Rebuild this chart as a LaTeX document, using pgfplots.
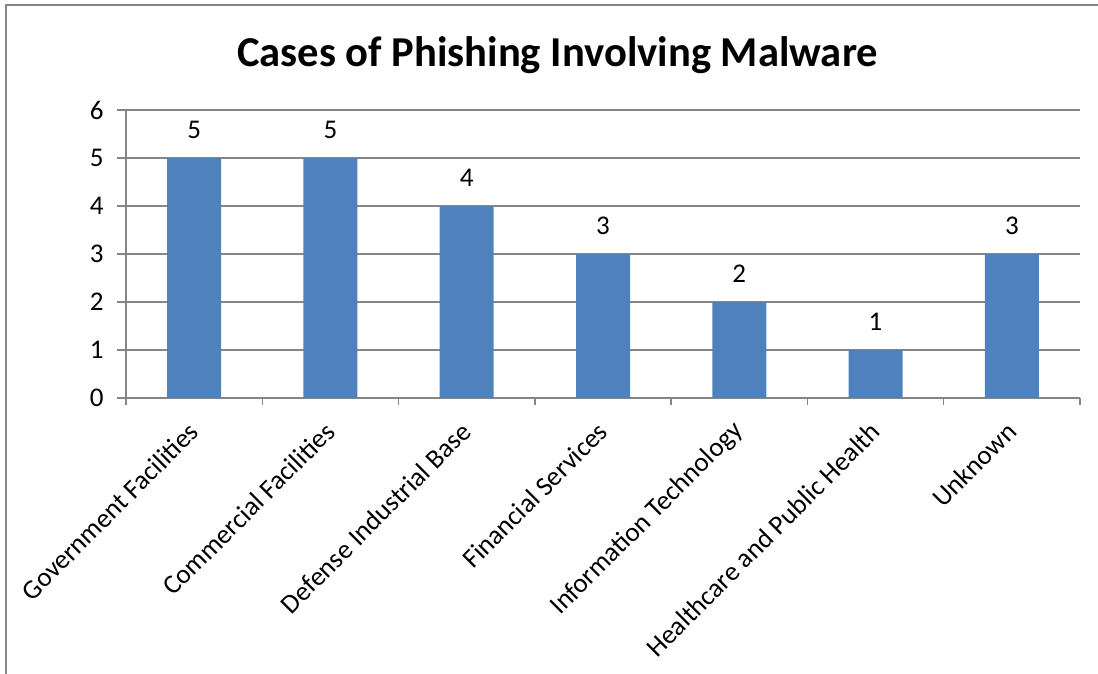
\documentclass[border=0pt]{standalone}
\usepackage{pgfplots}
\pgfplotsset{compat=1.18}
\usepackage{fontspec}
\setmainfont{Carlito}
\definecolor{barblue}{HTML}{4F81BD}
\definecolor{axgray}{HTML}{868686}
\begin{document}
\begin{tikzpicture}
\path[use as bounding box] (0,0) rectangle (549pt,337pt);
\draw[axgray, line width=1pt] (3pt,0) -- (3pt,334.5pt) -- (549pt,334.5pt);
\node[anchor=base, font=\fontsize{21.3pt}{25pt}\selectfont\bfseries, inner sep=0pt] at (278.75pt,303.5pt) {Cases of Phishing Involving Malware};
\begin{axis}[
  at={(63pt,138pt)}, anchor=south west,
  scale only axis, width=477pt, height=144pt,
  xmin=-0.5, xmax=6.5, ymin=0, ymax=6,
  axis x line*=bottom, axis y line*=left,
  axis line style={axgray, line width=0.75pt},
  ytick={0,1,...,6},
  ymajorgrids, grid style={axgray, line width=0.75pt},
  xtick={0,...,6},
  xticklabels={Government Facilities, Commercial Facilities, Defense Industrial Base, Financial Services, Information Technology, Healthcare and Public Health, Unknown},
  minor xtick={-0.5,0.5,...,6.5},
  tick align=outside,
  major tick length=4.5pt, minor tick length=3.5pt,
  every major x tick/.append style={draw=none},
  tick style={axgray, line width=0.75pt},
  every minor tick/.append style={axgray, line width=0.75pt},
  ticklabel style={font=\fontsize{13.5pt}{16pt}\selectfont},
  /pgf/number format/assume math mode=true,
  yticklabel style={inner sep=0pt, xshift=-6.5pt},
  xticklabel style={inner sep=0pt, yshift=-10pt, rotate=45, anchor=east},
  ybar, bar width=27pt,
  nodes near coords,
  nodes near coords style={font=\fontsize{13.5pt}{16pt}\selectfont, black, anchor=south, inner sep=0pt, yshift=9.5pt},
  clip=false,
]
\addplot[fill=barblue, draw=none] coordinates {(0,5) (1,5) (2,4) (3,3) (4,2) (5,1) (6,3)};
\end{axis}
\end{tikzpicture}
\end{document}
